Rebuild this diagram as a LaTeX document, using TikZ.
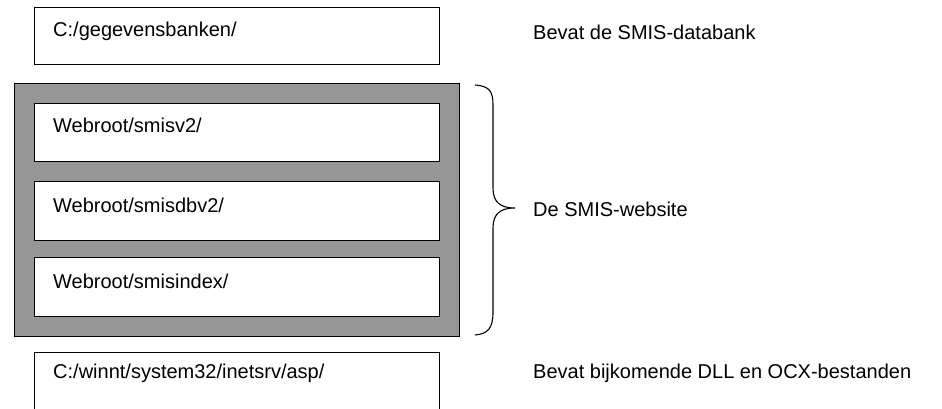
\documentclass[tikz,border=0pt]{standalone}
\usepackage{fontspec}
\setmainfont{Liberation Sans}
\begin{document}
\begin{tikzpicture}[x=1pt,y=-1pt,
  dirbox/.style={draw=black,line width=1pt,fill=white},
  frame/.style={draw=black,line width=1pt,fill=gray!82},
  txt/.style={anchor=base west,inner sep=0pt,font=\fontsize{20}{24}\selectfont},
  brace/.style={draw=black,line width=1.1pt}]
\useasboundingbox (0,0) rectangle (942,409);
\begin{scope}
\clip (0,0) rectangle (942,409);
\draw[dirbox] (34,8) rectangle (439,65);
\node[txt] (t1) at (53,37) {C:/gegevensbanken/};
\draw[frame] (14,84) rectangle (459,336);
\draw[dirbox] (34,104) rectangle (439,161);
\node[txt] (t2) at (53,133) {Webroot/smisv2/};
\draw[dirbox] (34,181) rectangle (439,240);
\node[txt] (t3) at (53,212) {Webroot/smisdbv2/};
\draw[dirbox] (34,257) rectangle (439,316);
\node[txt] (t4) at (53,288) {Webroot/smisindex/};
\draw[dirbox] (34,352) rectangle (439,420);
\node[txt] (t5) at (53,378) {C:/winnt/system32/inetsrv/asp/};
\end{scope}
\node[txt] (l1) at (533,40) {Bevat de SMIS-databank};
\node[txt] (l2) at (533,216) {De SMIS-website};
\node[txt] (l3) at (533,378) {Bevat bijkomende DLL en OCX-bestanden};
\coordinate (bt) at (475,85);
\coordinate (bb) at (475,335);
\coordinate (tip) at (515,208);
\draw[brace] (bt) .. controls (490,86) and (493,92) .. (493,105)
  -- (493,188) .. controls (493,202) and (500,208) .. (tip)
  .. controls (500,208) and (493,214) .. (493,228)
  -- (493,312) .. controls (493,328) and (488,334) .. (bb);
\end{tikzpicture}
\end{document}
